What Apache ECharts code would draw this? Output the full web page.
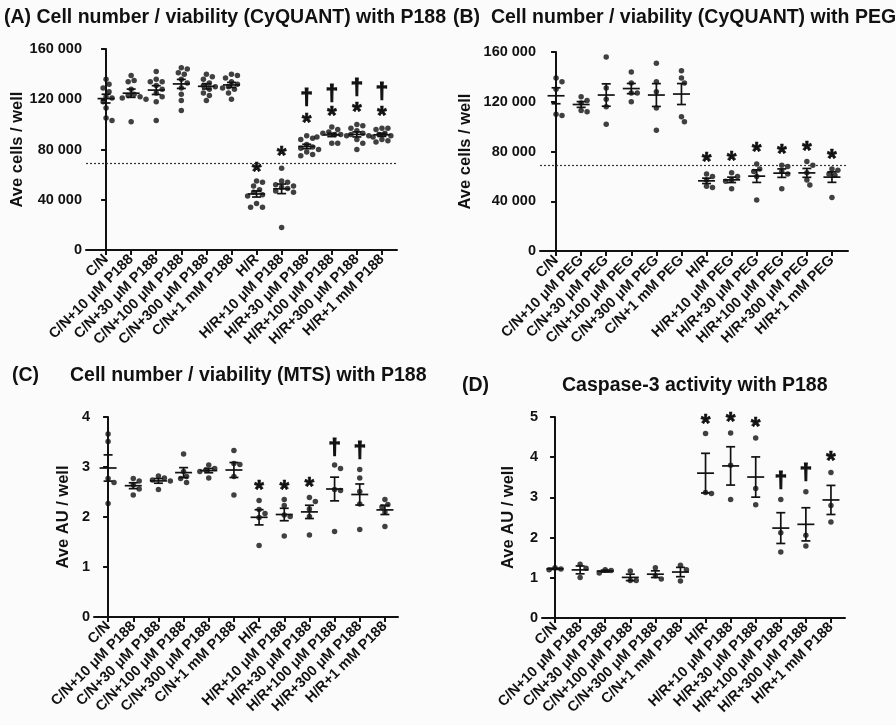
<!DOCTYPE html>
<html>
<head>
<meta charset="utf-8">
<script src="https://cdn.jsdelivr.net/npm/echarts@6/dist/echarts.min.js"></script>
<style>
  html, body { margin: 0; padding: 0; background: #fbfbfb; }
  #chart { width: 896px; height: 725px; }
</style>
</head>
<body>
<div id="chart"></div>
<script>
// category labels
var catsP188 = ['C/N', 'C/N+10 μM P188', 'C/N+30 μM P188', 'C/N+100 μM P188', 'C/N+300 μM P188', 'C/N+1 mM P188',
  'H/R', 'H/R+10 μM P188', 'H/R+30 μM P188', 'H/R+100 μM P188', 'H/R+300 μM P188', 'H/R+1 mM P188'];
var catsPEG = ['C/N', 'C/N+10 μM PEG', 'C/N+30 μM PEG', 'C/N+100 μM PEG', 'C/N+300 μM PEG', 'C/N+1 mM PEG',
  'H/R', 'H/R+10 μM PEG', 'H/R+30 μM PEG', 'H/R+100 μM PEG', 'H/R+300 μM PEG', 'H/R+1 mM PEG'];

// (A) CyQUANT with P188, cells / well
var cyquantP188 = [
  [136000, 132000, 129000, 126000, 122000, 121000, 118000, 113000, 105000, 103000],
  [139000, 135000, 134000, 128000, 124000, 123000, 122000, 121000, 120000, 102000],
  [142000, 136000, 134000, 134000, 131000, 128000, 125000, 122000, 118000, 103000],
  [145000, 144000, 141000, 140000, 136000, 133000, 129000, 124000, 119000, 111000],
  [140000, 138000, 136000, 133000, 131000, 130000, 128000, 125000, 123000, 119000],
  [140000, 139000, 137000, 134000, 132000, 130000, 129000, 128000, 125000, 120000],
  [55000, 54000, 51000, 48000, 46000, 44000, 43000, 37000, 34000, 34000],
  [65000, 55000, 54000, 52000, 51000, 50000, 49000, 47000, 46000, 18000],
  [91000, 89000, 88000, 84000, 82000, 81000, 80000, 78000, 76000, 75000],
  [98000, 96000, 94000, 93000, 92000, 92000, 91000, 90000, 85000, 85000],
  [100000, 99000, 97000, 95000, 93000, 92000, 91000, 88000, 85000, 80000],
  [97000, 97000, 96000, 93000, 92000, 91000, 90000, 88000, 87000, 86000]
];
var starsA = [[6, 65300], [7, 77900], [8, 104000], [9, 109900], [10, 112800], [11, 109900]];
var daggersA = [[8, 122100], [9, 125300], [10, 129900], [11, 126700]];

// (B) CyQUANT with PEG
var cyquantPEG = [
  [139000, 136000, 130000, 110000, 109000],
  [124000, 121000, 119000, 113000, 112000],
  [156000, 131000, 122000, 116000, 102000],
  [144000, 135000, 127000, 127000, 120000],
  [151000, 136000, 128000, 115000, 97000],
  [145000, 139000, 135000, 108000, 104000],
  [62000, 60000, 57000, 52000, 51000],
  [63000, 60000, 57000, 56000, 50000],
  [70000, 66000, 64000, 60000, 41000],
  [69000, 68000, 64000, 62000, 50000],
  [72000, 69000, 63000, 57000, 53000],
  [66000, 65000, 62000, 61000, 43000]
];
var starsB = [[6, 74500], [7, 75300], [8, 82600], [9, 81200], [10, 83900], [11, 77200]];

var thresholdCells = 69000;

// (C) MTS with P188, AU / well
var mtsP188 = [
  [3.66, 3.51, 2.77, 2.69, 2.27],
  [2.77, 2.72, 2.64, 2.56, 2.44],
  [2.82, 2.78, 2.74, 2.72, 2.55],
  [3.26, 2.91, 2.81, 2.77, 2.69],
  [3.04, 2.97, 2.94, 2.91, 2.78],
  [3.33, 3.07, 3.05, 2.81, 2.44],
  [2.33, 2.15, 2.07, 1.99, 1.43],
  [2.35, 2.23, 2.04, 2.01, 1.62],
  [2.39, 2.31, 2.16, 2.01, 1.64],
  [3.04, 2.97, 2.55, 2.53, 1.71],
  [2.95, 2.78, 2.51, 2.26, 1.75],
  [2.35, 2.25, 2.20, 2.10, 1.81]
];
var starsC = [[6, 2.61], [7, 2.62], [8, 2.67]];
var daggersC = [[9, 3.41], [10, 3.34]];

// (D) caspase-3 with P188
var caspP188 = [
  [1.25, 1.22, 1.20],
  [1.34, 1.24, 1.01],
  [1.20, 1.18, 1.12],
  [1.17, 0.93, 0.93],
  [1.25, 1.05, 0.97],
  [1.31, 1.20, 0.92],
  [4.59, 3.12, 3.10],
  [4.60, 3.80, 2.95],
  [4.48, 3.22, 2.82],
  [2.95, 2.12, 1.64],
  [3.14, 2.06, 1.79],
  [3.62, 2.80, 2.39]
];
var starsD = [[6, 4.92], [7, 4.96], [8, 4.84], [11, 4.0]];
var daggersD = [[9, 3.43], [10, 3.64]];

var FONT = 'Liberation Sans, Arial, sans-serif';
var INK = '#111';

function fmtThousands(v) {
  return String(v).replace(/\B(?=(\d{3})+(?!\d))/g, ' ');
}

// mean and SEM of each group
function stats(groups) {
  return groups.map(function (g, i) {
    var n = g.length, m = 0, ss = 0;
    g.forEach(function (v) { m += v; });
    m /= n;
    g.forEach(function (v) { ss += (v - m) * (v - m); });
    return [i, m, Math.sqrt(ss / (n - 1)) / Math.sqrt(n)];
  });
}

// simple beeswarm so dots sit side by side like the prism plot
function swarm(groups, pxX, pxY, d) {
  var out = [];
  groups.forEach(function (g, i) {
    var placed = [];
    g.slice().sort(function (a, b) { return b - a; }).forEach(function (v) {
      var y = v * pxY, k = 0, off = 0;
      while (true) {
        off = (k === 0) ? 0 : (k % 2 ? 1 : -1) * Math.ceil(k / 2) * d * 0.55;
        var hit = placed.some(function (p) {
          var dx = p[0] - off, dy = p[1] - y;
          return dx * dx + dy * dy < d * d;
        });
        if (!hit) break;
        k++;
      }
      placed.push([off, y]);
      out.push([i + off / pxX, v]);
    });
  });
  return out;
}

var grids = [], xAxes = [], yAxes = [], series = [];

function panel(p) {
  var gi = grids.length;
  grids.push({ left: p.left, top: p.top, width: p.width, height: p.height });
  var idx = [0, 1, 2, 3, 4, 5, 6, 7, 8, 9, 10, 11];
  xAxes.push({
    gridIndex: gi, type: 'value', min: p.xmin, max: p.xmax,
    axisLine: { show: true, onZero: false, lineStyle: { color: INK, width: 2 } },
    axisTick: { show: true, customValues: idx, length: 5, lineStyle: { color: INK, width: 2 } },
    axisLabel: {
      show: true, customValues: idx, rotate: 45, margin: 7,
      color: INK, fontFamily: FONT, fontWeight: 'bold', fontSize: 14.5,
      formatter: function (v) { return p.cats[Math.round(v)]; }
    },
    splitLine: { show: false }
  });
  yAxes.push({
    gridIndex: gi, type: 'value', min: 0, max: p.ymax, interval: p.yint,
    name: p.yname, nameLocation: 'middle', nameGap: p.nameGap,
    nameTextStyle: { color: INK, fontFamily: FONT, fontWeight: 'bold', fontSize: 16.5 },
    axisLine: { show: true, lineStyle: { color: INK, width: 2 } },
    axisTick: { show: true, length: 5, lineStyle: { color: INK, width: 2 } },
    axisLabel: { color: INK, fontFamily: FONT, fontWeight: 'bold', fontSize: 14.5, margin: 4,
      formatter: fmtThousands },
    splitLine: { show: false }
  });
  var pxX = p.width / (p.xmax - p.xmin);
  var pxY = p.height / p.ymax;
  var scatter = {
    type: 'scatter', xAxisIndex: gi, yAxisIndex: gi,
    symbolSize: 5.5, itemStyle: { color: INK },
    data: swarm(p.groups, pxX, pxY, 5.4), z: 3
  };
  if (p.refLine != null) {
    scatter.markLine = {
      silent: true, symbol: 'none', label: { show: false },
      lineStyle: { color: '#333', type: [2, 2], width: 1.2 },
      data: [{ yAxis: p.refLine }]
    };
  }
  series.push(scatter);
  series.push({
    type: 'custom', xAxisIndex: gi, yAxisIndex: gi, z: 4,
    data: stats(p.groups),
    renderItem: function (params, api) {
      var c = api.coord([api.value(0), api.value(1)]);
      var hi = api.coord([api.value(0), api.value(1) + api.value(2)]);
      var lo = api.coord([api.value(0), api.value(1) - api.value(2)]);
      var st = { stroke: INK, lineWidth: 1.7 };
      return {
        type: 'group', children: [
          { type: 'line', shape: { x1: c[0] - 8.5, y1: c[1], x2: c[0] + 8.5, y2: c[1] }, style: st },
          { type: 'line', shape: { x1: c[0], y1: hi[1], x2: c[0], y2: lo[1] }, style: st },
          { type: 'line', shape: { x1: c[0] - 4.5, y1: hi[1], x2: c[0] + 4.5, y2: hi[1] }, style: st },
          { type: 'line', shape: { x1: c[0] - 4.5, y1: lo[1], x2: c[0] + 4.5, y2: lo[1] }, style: st }
        ]
      };
    }
  });
  var marks = [];
  (p.stars || []).forEach(function (s) { marks.push([s[0], s[1], 0]); });
  (p.daggers || []).forEach(function (s) { marks.push([s[0], s[1], 1]); });
  series.push({
    type: 'custom', xAxisIndex: gi, yAxisIndex: gi, z: 5,
    data: marks,
    renderItem: function (params, api) {
      var c = api.coord([api.value(0), api.value(1)]);
      var isDag = api.value(2) === 1;
      return {
        type: 'text',
        x: c[0], y: c[1] + (isDag ? 1 : 5),
        style: {
          text: isDag ? '†' : '*', fill: INK, stroke: INK, lineWidth: isDag ? 1.2 : 0.6,
          font: 'bold ' + (isDag ? 22 : 25) + 'px ' + FONT,
          textAlign: 'center', textVerticalAlign: 'middle'
        }
      };
    }
  });
}

panel({ left: 86, top: 49, width: 311, height: 201, xmin: -0.8, xmax: 11.6, ymax: 160000, yint: 40000,
  yname: 'Ave cells / well', nameGap: 58, cats: catsP188, groups: cyquantP188,
  stars: starsA, daggers: daggersA, refLine: thresholdCells });
panel({ left: 540, top: 52, width: 308, height: 199, xmin: -0.64, xmax: 11.64, ymax: 160000, yint: 40000,
  yname: 'Ave cells / well', nameGap: 66, cats: catsPEG, groups: cyquantPEG,
  stars: starsB, refLine: thresholdCells });
panel({ left: 94, top: 417, width: 304, height: 200, xmin: -0.56, xmax: 11.52, ymax: 4, yint: 1,
  yname: 'Ave AU / well', nameGap: 22, cats: catsP188, groups: mtsP188,
  stars: starsC, daggers: daggersC });
panel({ left: 542, top: 417, width: 303, height: 201, xmin: -0.52, xmax: 11.56, ymax: 5, yint: 1,
  yname: 'Ave AU / well', nameGap: 25, cats: catsP188, groups: caspP188,
  stars: starsD, daggers: daggersD });

var tStyle = { color: INK, fontFamily: FONT, fontWeight: 'bold', fontSize: 19.5 };
var chart = echarts.init(document.getElementById('chart'));
chart.setOption({
  backgroundColor: '#fbfbfb',
  animation: false,
  title: [
    { text: '(A) Cell number / viability (CyQUANT) with P188', left: 4, top: 8, padding: 0, textStyle: tStyle },
    { text: '(B)  Cell number / viability (CyQUANT) with PEG', left: 453, top: 8, padding: 0, textStyle: tStyle },
    { text: '(C)', left: 12, top: 366, padding: 0, textStyle: tStyle },
    { text: 'Cell number / viability (MTS) with P188', left: 70, top: 366, padding: 0, textStyle: tStyle },
    { text: '(D)', left: 462, top: 376, padding: 0, textStyle: tStyle },
    { text: 'Caspase-3 activity with P188', left: 562, top: 376, padding: 0, textStyle: tStyle }
  ],
  grid: grids,
  xAxis: xAxes,
  yAxis: yAxes,
  series: series
});
</script>
</body>
</html>
